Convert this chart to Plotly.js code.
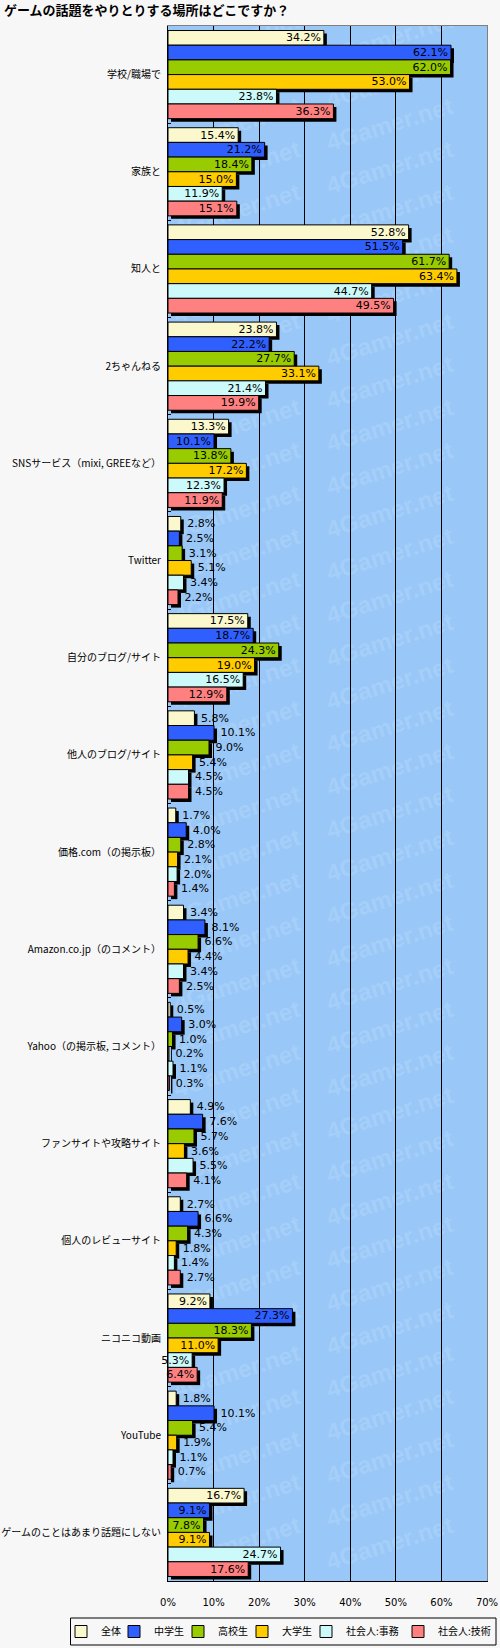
<!DOCTYPE html>
<html>
<head>
<meta charset="utf-8">
<script src="https://cdn.plot.ly/plotly-3.0.1.min.js"></script>
<style>
  html, body { margin: 0; background: #f7f7f7; overflow: hidden; }
  #graphDiv { width: 500px; height: 1648px; }
</style>
</head>
<body>
<div id="graphDiv"></div>
<script>
// data ************************************************************************
var places = [
  '学校/職場で',
  '家族と',
  '知人と',
  '2ちゃんねる',
  'SNSサービス（mixi, GREEなど）',
  'Twitter',
  '自分のブログ/サイト',
  '他人のブログ/サイト',
  '価格.com（の掲示板）',
  'Amazon.co.jp（のコメント）',
  'Yahoo（の掲示板, コメント）',
  'ファンサイトや攻略サイト',
  '個人のレビューサイト',
  'ニコニコ動画',
  'YouTube',
  'ゲームのことはあまり話題にしない'
];

var groupNames = ['全体', '中学生', '高校生', '大学生', '社会人:事務', '社会人:技術'];

var zentai    = [34.2, 15.4, 52.8, 23.8, 13.3, 2.8, 17.5, 5.8, 1.7, 3.4, 0.5, 4.9, 2.7, 9.2, 1.8, 16.7];
var chugaku   = [62.1, 21.2, 51.5, 22.2, 10.1, 2.5, 18.7, 10.1, 4.0, 8.1, 3.0, 7.6, 6.6, 27.3, 10.1, 9.1];
var koko      = [62.0, 18.4, 61.7, 27.7, 13.8, 3.1, 24.3, 9.0, 2.8, 6.6, 1.0, 5.7, 4.3, 18.3, 5.4, 7.8];
var daigaku   = [53.0, 15.0, 63.4, 33.1, 17.2, 5.1, 19.0, 5.4, 2.1, 4.4, 0.2, 3.6, 1.8, 11.0, 1.9, 9.1];
var jimu      = [23.8, 11.9, 44.7, 21.4, 12.3, 3.4, 16.5, 4.5, 2.0, 3.4, 1.1, 5.5, 1.4, 5.3, 1.1, 24.7];
var gijutsu   = [36.3, 15.1, 49.5, 19.9, 11.9, 2.2, 12.9, 4.5, 1.4, 2.5, 0.3, 4.1, 2.7, 6.4, 0.7, 17.6];

var allSeries = [zentai, chugaku, koko, daigaku, jimu, gijutsu];

// style ***********************************************************************
var barColors = ['#faf8cc', '#305fff', '#99cc00', '#ffcc00', '#ccfafa', '#ff8080'];

var valFont  = { family: '"DejaVu Sans", sans-serif', size: 11, color: '#000' };
var tickFont = { family: '"DejaVu Sans", sans-serif', size: 10, color: '#000' };
var catFont  = { family: '"Noto Sans CJK JP", sans-serif', size: 10, color: '#000' };

// plot area in px (used for the shadow shift and legend placing)
var plotL = 168;
var plotT = 26;
var plotW = 319;
var plotH = 1555;
var plotB = plotT + plotH;
var shadowPx = 3;
var xShift = shadowPx * 70 / plotW;
var yShift = shadowPx * places.length / plotH;

function pxX(px) { return (px - plotL) / plotW; }
function pxY(px) { return (plotB - px) / plotH; }

// labels go inside when the category has long bars
function labelPositions() {
  var pos = [];
  for (var c = 0; c < places.length; c++) {
    var m = 0;
    for (var s = 0; s < allSeries.length; s++) m = Math.max(m, allSeries[s][c]);
    pos.push(m >= 12 ? 'inside' : 'outside');
  }
  return pos;
}
var textPos = labelPositions();

var traces = [];

// black shadows, on the shifted base axes
for (var s = 0; s < allSeries.length; s++) {
  traces.push({
    type: 'bar',
    orientation: 'h',
    x: allSeries[s],
    y: places,
    xaxis: 'x',
    yaxis: 'y',
    marker: { color: '#000' },
    showlegend: false,
    hoverinfo: 'skip'
  });
}

// the bars themselves, each one in its own little legend
var legendIds = ['legend', 'legend2', 'legend3', 'legend4', 'legend5', 'legend6'];
for (var s = 0; s < allSeries.length; s++) {
  traces.push({
    type: 'bar',
    orientation: 'h',
    name: groupNames[s],
    legend: legendIds[s],
    x: allSeries[s],
    y: places,
    xaxis: 'x2',
    yaxis: 'y2',
    marker: { color: barColors[s], line: { color: '#000', width: 1 } },
    text: allSeries[s].map(function (v, i) {
      return (textPos[i] === 'outside' ? '\u00a0' : '') + v.toFixed(1) + '%';
    }),
    textposition: textPos,
    insidetextanchor: 'end',
    constraintext: 'none',
    textangle: 0,
    textfont: valFont,
    insidetextfont: valFont,
    outsidetextfont: valFont,
    cliponaxis: false
  });
}

// watermark: invisible shapes carrying a label, kept below the bars
var shapes = [{
  type: 'rect', xref: 'paper', yref: 'paper',
  x0: pxX(70.5), x1: pxX(496), y0: pxY(1618), y1: pxY(1645),
  line: { color: '#000', width: 1 }, fillcolor: 'rgba(0,0,0,0)'
}];
for (var r = 0; r < 36; r++) {
  for (var k = 0; k < 2; k++) {
    var cx = 236 + k * 153;
    var cy = 36 + r * 43;
    shapes.push({
      type: 'rect', xref: 'paper', yref: 'paper', layer: 'below',
      x0: pxX(cx - 1), x1: pxX(cx + 1), y0: pxY(cy + 1), y1: pxY(cy - 1),
      line: { width: 0 }, fillcolor: 'rgba(0,0,0,0)',
      label: {
        text: '<b>4Gamer.net</b>',
        textangle: -17,
        textposition: 'middle center',
        font: { family: '"Liberation Sans", Arial, sans-serif', size: 24, color: 'rgba(255,255,255,0.13)' }
      }
    });
  }
}

var layout = {
  width: 500,
  height: 1648,
  paper_bgcolor: '#f7f7f7',
  plot_bgcolor: '#99c8f8',
  margin: { l: plotL, r: 500 - plotL - plotW, t: plotT, b: 1648 - plotB, autoexpand: false },
  barmode: 'group',
  bargap: 0.093,
  bargroupgap: 0,
  font: catFont,
  title: {
    text: '<b>ゲームの話題をやりとりする場所はどこですか？</b>',
    x: 0.008, xanchor: 'left', xref: 'container',
    y: 1 - 10 / 1648, yanchor: 'middle', yref: 'container',
    font: { family: '"Noto Sans CJK JP", sans-serif', size: 13, color: '#000' }
  },
  xaxis: {
    range: [-xShift, 70 - xShift],
    showgrid: false, zeroline: false, showticklabels: false,
    showline: true, mirror: true, linecolor: '#808080', linewidth: 1
  },
  yaxis: {
    type: 'category',
    range: [places.length - 0.5 - yShift, -0.5 - yShift],
    showgrid: false, showticklabels: false,
    showline: true, mirror: true, linecolor: '#808080', linewidth: 1
  },
  xaxis2: {
    overlaying: 'x',
    anchor: 'y2',
    side: 'bottom',
    range: [0, 70],
    dtick: 10,
    ticksuffix: '%',
    showgrid: true, gridcolor: '#000', gridwidth: 1,
    zeroline: false,
    showline: true, linecolor: '#000', linewidth: 1,
    ticks: '', ticklabelstandoff: 12,
    tickfont: tickFont
  },
  yaxis2: {
    overlaying: 'y',
    anchor: 'x2',
    type: 'category',
    range: [places.length - 0.5, -0.5],
    showgrid: false,
    showline: true, linecolor: '#000', linewidth: 1,
    ticks: 'inside', ticklen: 3, tickcolor: '#000', tickson: 'boundaries',
    ticklabelstandoff: 4,
    tickfont: catFont
  },
  shapes: shapes
};

// legend entries, left edges in px
var legendLeft = [61, 114, 178, 242, 306, 398];
for (var s = 0; s < legendIds.length; s++) {
  layout[legendIds[s]] = {
    orientation: 'h',
    x: pxX(legendLeft[s]), xanchor: 'left',
    y: pxY(1631.5), yanchor: 'middle',
    bgcolor: 'rgba(0,0,0,0)',
    borderwidth: 0,
    font: { family: '"Noto Sans CJK JP", sans-serif', size: 10, color: '#000' },
    itemwidth: 30
  };
}

Plotly.newPlot('graphDiv', traces, layout, { displayModeBar: false, staticPlot: true });
</script>
</body>
</html>
